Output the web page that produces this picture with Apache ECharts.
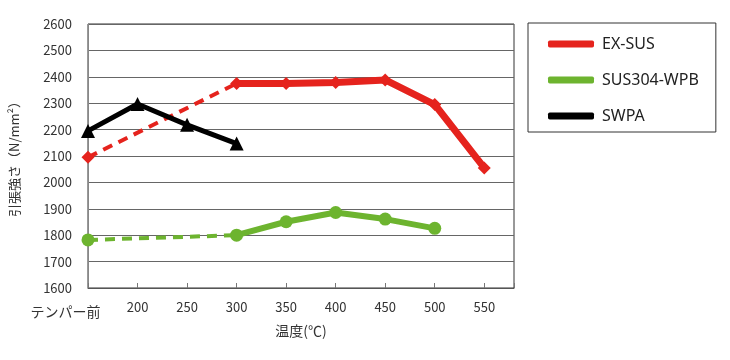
<!DOCTYPE html>
<html><head><meta charset="utf-8">
<script src="https://cdn.jsdelivr.net/npm/echarts@6/dist/echarts.min.js"></script>
<style>html,body{margin:0;padding:0;background:#fff}#c{width:730px;height:360px}</style>
</head><body><div id="c"></div>
<script>
// Data
const categories = ['テンパー前', '200', '250', '300', '350', '400', '450', '500', '550'];
const tempPositions = [150, 200, 250, 300, 350, 400, 450, 500, 550];
const exSus = [2095, null, null, 2375, 2375, 2378, 2388, 2295, 2055];
const sus304 = [1782, null, null, 1800, 1851, 1886, 1861, 1826, null];
const swpa = [2195, 2297, 2218, 2147, null, null, null, null, null];
const yTicks = [1600, 2600, 100];

function pairs(vals, from, to) {
  const out = [];
  for (let i = from; i <= to; i++) if (vals[i] != null) out.push([tempPositions[i], vals[i]]);
  return out;
}
const RED = '#e5231d', GREEN = '#6db42f', BLACK = '#000000';
const FONT = '"Noto Sans CJK JP", "Noto Sans", sans-serif';

const chart = echarts.init(document.getElementById('c'), null, {renderer: 'canvas'});
chart.setOption({
  animation: false,
  textStyle: {fontFamily: FONT},
  grid: {left: 86, top: 24, width: 428, height: 264, show: true, borderColor: '#333', borderWidth: 1, backgroundColor: 'transparent'},
  legend: {
    data: [
      {name: 'EX-SUS', icon: 'roundRect', itemStyle: {color: RED}},
      {name: 'SUS304-WPB', icon: 'roundRect', itemStyle: {color: GREEN}},
      {name: 'SWPA', icon: 'roundRect', itemStyle: {color: BLACK}}
    ],
    orient: 'vertical', left: 528, top: 23,
    itemWidth: 46, itemHeight: 7, itemGap: 20,
    padding: [13, 17, 8, 20],
    borderColor: '#333', borderWidth: 1,
    textStyle: {fontSize: 16, color: '#222', fontFamily: '"Noto Sans", sans-serif', padding: [0, 0, 0, 3]}
  },
  xAxis: {
    type: 'value', min: 150, max: 580, interval: 50,
    name: '温度(℃)', nameLocation: 'middle', nameGap: 35,
    nameTextStyle: {fontSize: 14, color: '#333'},
    axisLine: {lineStyle: {color: '#555', width: 1}},
    axisTick: {show: true, inside: true, length: 5, lineStyle: {color: '#777'}},
    splitLine: {show: false},
    axisLabel: {
      fontSize: 13, color: '#333', margin: 13, showMaxLabel: true,
      formatter: function (v) {
        const i = tempPositions.indexOf(v);
        if (i === 0) return '{a|' + categories[0] + '}';
        return i > 0 ? categories[i] : '';
      },
      rich: {a: {fontSize: 14, color: '#333', padding: [4, 45, 0, 0]}}
    }
  },
  yAxis: {
    type: 'value', min: yTicks[0], max: yTicks[1], interval: yTicks[2],
    name: '引張強さ（N/mm²）', nameLocation: 'middle', nameGap: 67, nameRotate: 90,
    nameTextStyle: {fontSize: 13, color: '#333'},
    axisLine: {show: true, lineStyle: {color: '#888'}},
    axisTick: {show: false},
    axisLabel: {fontSize: 13, color: '#333', margin: 16, formatter: function (v) { return String(v); }},
    splitLine: {lineStyle: {color: '#666', width: 1}}
  },
  series: [
    {name: 'EX-SUS', type: 'line', data: pairs(exSus, 3, 8), color: RED,
     lineStyle: {width: 7, color: RED}, symbol: 'diamond', symbolSize: 13, z: 3},
    {name: 'SUS304-WPB', type: 'line', data: pairs(sus304, 3, 8), color: GREEN,
     lineStyle: {width: 6, color: GREEN}, symbol: 'circle', symbolSize: 13, z: 3},
    {name: 'SWPA', type: 'line', data: pairs(swpa, 0, 8), color: BLACK,
     lineStyle: {width: 5, color: BLACK}, symbol: 'triangle', symbolSize: 14, z: 4},
    {name: 'EX-SUS-temper', type: 'line', data: pairs(exSus, 0, 3), color: RED,
     lineStyle: {width: 4, type: [10, 7], color: RED}, symbol: function (v) { return v[0] === tempPositions[0] ? 'diamond' : 'none'; }, symbolSize: 13, z: 2},
    {name: 'SUS304-WPB-temper', type: 'line', data: pairs(sus304, 0, 3), color: GREEN,
     lineStyle: {width: 4, type: [10, 7], color: GREEN}, symbol: function (v) { return v[0] === tempPositions[0] ? 'circle' : 'none'; }, symbolSize: 13, z: 2}
  ]
});
</script></body></html>
